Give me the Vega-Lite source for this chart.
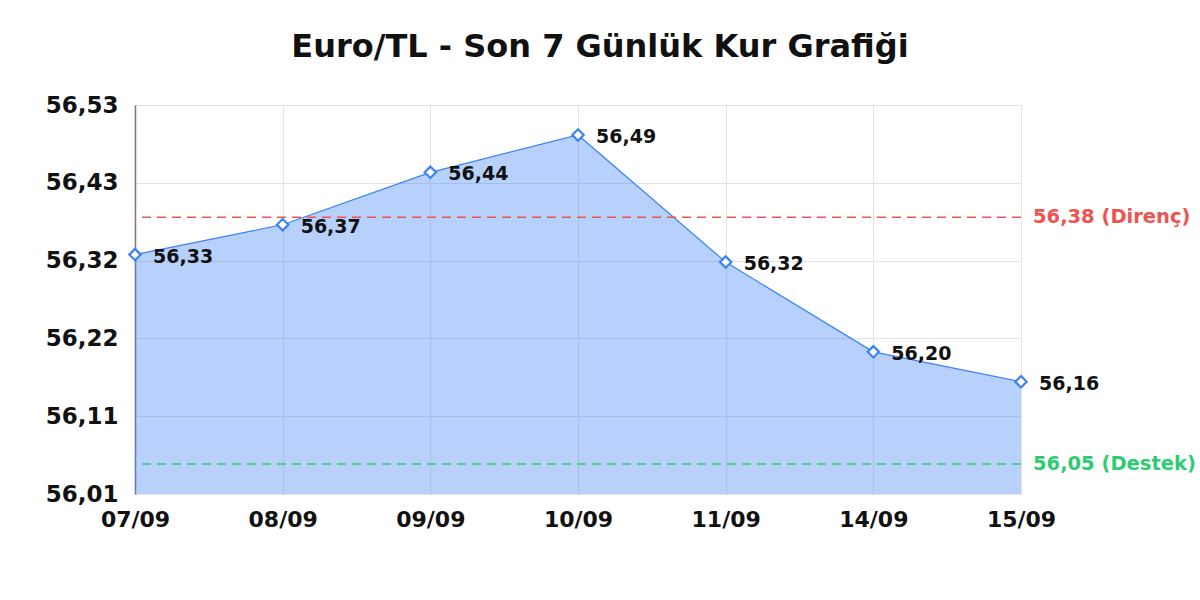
{
  "$schema": "https://vega.github.io/schema/vega-lite/v6.json",
  "width": 886,
  "height": 389,
  "autosize": {"type": "none"},
  "padding": {"left": 135, "top": 105, "right": 179, "bottom": 106},
  "background": "white",
  "title": {
    "text": "Euro/TL - Son 7 Günlük Kur Grafiği",
    "font": "DejaVu Sans",
    "fontSize": 32,
    "fontWeight": "bold",
    "color": "#111111",
    "dx": 22,
    "offset": 30
  },
  "config": {
    "locale": {"number": {"decimal": ",", "thousands": ".", "grouping": [3], "currency": ["", " TL"]}},
    "font": "DejaVu Sans",
    "view": {"stroke": null}
  },
  "datasets": {
    "kur": [
      {"tarih": "07/09", "kur": 56.33},
      {"tarih": "08/09", "kur": 56.37},
      {"tarih": "09/09", "kur": 56.44},
      {"tarih": "10/09", "kur": 56.49},
      {"tarih": "11/09", "kur": 56.32},
      {"tarih": "14/09", "kur": 56.20},
      {"tarih": "15/09", "kur": 56.16}
    ],
    "seviye": [
      {"tarih": "15/09", "deger": 56.38, "etiket": "56,38 (Direnç)", "tur": "Direnç"},
      {"tarih": "15/09", "deger": 56.05, "etiket": "56,05 (Destek)", "tur": "Destek"}
    ]
  },
  "layer": [
    {
      "data": {"name": "kur"},
      "mark": {"type": "area", "color": "#3b82f6", "opacity": 0.37, "clip": true},
      "encoding": {
        "x": {
          "field": "tarih", "type": "ordinal",
          "scale": {"type": "point", "padding": 0},
          "sort": null,
          "axis": {
            "title": null, "labelAngle": 0, "labelFontSize": 22, "labelFontWeight": "bold",
            "labelColor": "#111111", "labelPadding": 15, "ticks": false, "domain": false,
            "grid": true, "gridColor": "#e3e3e3", "gridWidth": 1
          }
        },
        "y": {
          "field": "kur", "type": "quantitative",
          "scale": {"domain": [56.01, 56.53], "zero": false, "nice": false},
          "axis": {
            "title": null, "values": [56.01, 56.114, 56.218, 56.322, 56.426, 56.53],
            "format": ".2f", "labelFontSize": 23, "labelFontWeight": "bold",
            "labelColor": "#111111", "labelPadding": 17, "ticks": false,
            "domain": true, "domainColor": "#777777", "domainWidth": 1.5,
            "grid": true, "gridColor": "#e3e3e3", "gridWidth": 1
          }
        }
      }
    },
    {
      "data": {"name": "kur"},
      "mark": {"type": "line", "color": "#3b82f6", "strokeWidth": 1.2},
      "encoding": {
        "x": {"field": "tarih", "type": "ordinal", "sort": null},
        "y": {"field": "kur", "type": "quantitative"}
      }
    },
    {
      "data": {"name": "seviye"},
      "mark": {"type": "rule", "strokeDash": [9, 6], "strokeWidth": 1.5},
      "encoding": {
        "y": {"field": "deger", "type": "quantitative"},
        "color": {"field": "tur", "type": "nominal", "scale": {"domain": ["Direnç", "Destek"], "range": ["#ef5350", "#2ecc71"]}, "legend": null}
      }
    },
    {
      "data": {"name": "seviye"},
      "mark": {"type": "text", "align": "left", "baseline": "middle", "dx": 12, "fontSize": 19.5, "fontWeight": "bold"},
      "encoding": {
        "x": {"field": "tarih", "type": "ordinal", "sort": null},
        "y": {"field": "deger", "type": "quantitative"},
        "text": {"field": "etiket"},
        "color": {"field": "tur", "type": "nominal", "legend": null}
      }
    },
    {
      "data": {"name": "kur"},
      "mark": {"type": "point", "shape": "diamond", "size": 130, "filled": true, "fill": "white", "stroke": "#3b82f6", "strokeWidth": 2.2, "opacity": 1},
      "encoding": {
        "x": {"field": "tarih", "type": "ordinal", "sort": null},
        "y": {"field": "kur", "type": "quantitative"}
      }
    },
    {
      "data": {"name": "kur"},
      "mark": {"type": "text", "align": "left", "baseline": "middle", "dx": 18, "dy": 2, "fontSize": 19, "fontWeight": "bold", "color": "#111111"},
      "encoding": {
        "x": {"field": "tarih", "type": "ordinal", "sort": null},
        "y": {"field": "kur", "type": "quantitative"},
        "text": {"field": "kur", "type": "quantitative", "format": ".2f"}
      }
    }
  ]
}
